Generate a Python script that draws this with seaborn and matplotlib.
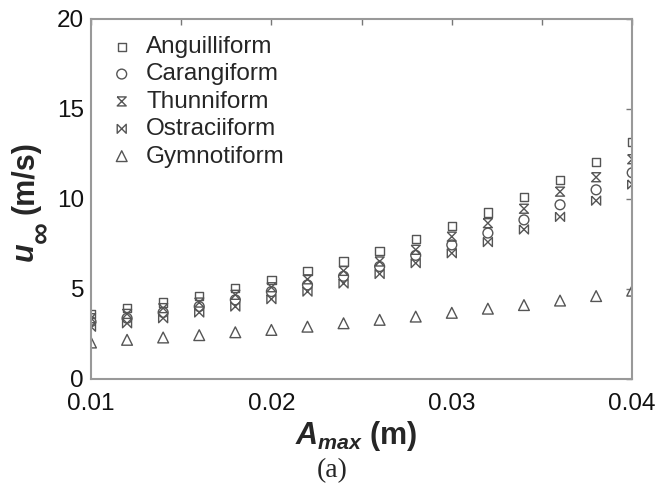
import numpy as np
import pandas as pd
import matplotlib
matplotlib.use("Agg")
import matplotlib.pyplot as plt
import seaborn as sns

# ---- data ----
amax = [0.010, 0.012, 0.014, 0.016, 0.018, 0.020, 0.022, 0.024,
        0.026, 0.028, 0.030, 0.032, 0.034, 0.036, 0.038, 0.040]
anguilliform = [3.60, 3.93, 4.24, 4.61, 5.04, 5.50, 6.00, 6.52,
                7.12, 7.78, 8.50, 9.25, 10.12, 11.04, 12.06, 13.15]
carangiform = [3.18, 3.37, 3.69, 4.02, 4.39, 4.85, 5.22, 5.70,
               6.24, 6.86, 7.44, 8.10, 8.83, 9.67, 10.50, 11.45]
thunniform = [3.37, 3.61, 3.93, 4.24, 4.67, 5.09, 5.53, 6.00,
              6.52, 7.17, 7.90, 8.65, 9.45, 10.40, 11.20, 12.20]
ostraciiform = [2.90, 3.09, 3.37, 3.69, 4.02, 4.43, 4.85, 5.30,
                5.83, 6.43, 6.98, 7.60, 8.30, 9.00, 9.90, 10.80]
gymnotiform = [2.02, 2.17, 2.30, 2.43, 2.59, 2.72, 2.90, 3.09,
               3.28, 3.46, 3.67, 3.90, 4.10, 4.35, 4.60, 4.90]
series_names = ["Anguilliform", "Carangiform", "Thunniform", "Ostraciiform", "Gymnotiform"]
x_ticks = [0.01, 0.02, 0.03, 0.04]
x_tick_labels = ["0.01", "0.02", "0.03", "0.04"]
y_ticks = [0, 5, 10, 15, 20]

sns.set_style("white")
plt.rcParams["font.family"] = ["Liberation Sans", "DejaVu Sans"]
plt.rcParams["mathtext.fontset"] = "custom"
plt.rcParams["mathtext.it"] = "Liberation Sans:italic:bold"
plt.rcParams["mathtext.rm"] = "Liberation Sans:bold"
plt.rcParams["mathtext.bf"] = "Liberation Sans:bold"

df = pd.DataFrame({
    "amax": amax * 5,
    "u": anguilliform + carangiform + thunniform + ostraciiform + gymnotiform,
    "type": sum([[n] * len(amax) for n in series_names], []),
})

hourglass = [(-1, 1), (1, 1), (-1, -1), (1, -1), (-1, 1)]
bowtie = [(-1, 1), (-1, -1), (1, 1), (1, -1), (-1, 1)]
markers = {"Anguilliform": "s", "Carangiform": "o", "Thunniform": hourglass,
           "Ostraciiform": bowtie, "Gymnotiform": "^"}
sizes = {"Anguilliform": 36, "Carangiform": 50, "Thunniform": 42,
         "Ostraciiform": 42, "Gymnotiform": 60}

W, H = 669, 494
fig = plt.figure(figsize=(W / 100, H / 100), dpi=100)
ax = fig.add_axes([0.136, 0.233, 0.809, 0.729])

mcol = "#555555"
for name in series_names:
    sub = df[df["type"] == name]
    sns.scatterplot(data=sub, x="amax", y="u", marker=markers[name], s=sizes[name],
                    facecolor="none", edgecolor=mcol, color=mcol, linewidth=1.0,
                    label=name, ax=ax, legend=False)

ax.set_xlim(0.01, 0.04)
ax.set_ylim(0, 20)
ax.set_xticks(x_ticks)
ax.set_xticklabels(x_tick_labels)
ax.set_xticks(np.arange(0.015, 0.04, 0.01), minor=True)
ax.set_yticks(y_ticks)

for sp in ax.spines.values():
    sp.set_visible(True)
    sp.set_color("#999999")
    sp.set_linewidth(1.5)

ax.tick_params(axis="both", which="both", direction="in", top=True, right=True,
               color="#777777", labelsize=17.5, labelcolor="#111111")
ax.tick_params(which="major", length=4, width=1)
ax.tick_params(which="minor", length=4, width=1)
ax.tick_params(axis="x", pad=10)
ax.tick_params(axis="y", pad=5)

ax.set_xlabel(r"$\mathit{A}_{\mathit{max}}$ (m)", fontsize=22, fontweight="bold", labelpad=2)
ax.xaxis.set_label_coords(0.49, -0.11)
ax.xaxis.label.set_va("top")
ax.set_ylabel("")

# y label built from pieces: u, a full-size lowered infinity sign, (m/s)
def px(x, y):
    return x / W, 1 - y / H

lab_kw = dict(rotation=90, rotation_mode="anchor", ha="left", va="baseline",
              fontsize=22, fontweight="bold")
fig.text(*px(33, 261), "u", style="italic", **lab_kw)
fig.text(*px(50, 243), "\u221e", style="italic", **lab_kw)
fig.text(*px(33, 214), "(m/s)", **lab_kw)

leg = ax.legend(loc="upper left", frameon=False, fontsize=17.5, handletextpad=0.6,
                labelspacing=0.22, borderaxespad=0.0, borderpad=0.0, handlelength=0.8,
                bbox_to_anchor=(0.1674, 0.927), bbox_transform=fig.transFigure)

fig.text(0.497, 0.035, "(a)", fontsize=20, family=["Liberation Serif"], ha="center")

fig.savefig("out.png", dpi=100)
